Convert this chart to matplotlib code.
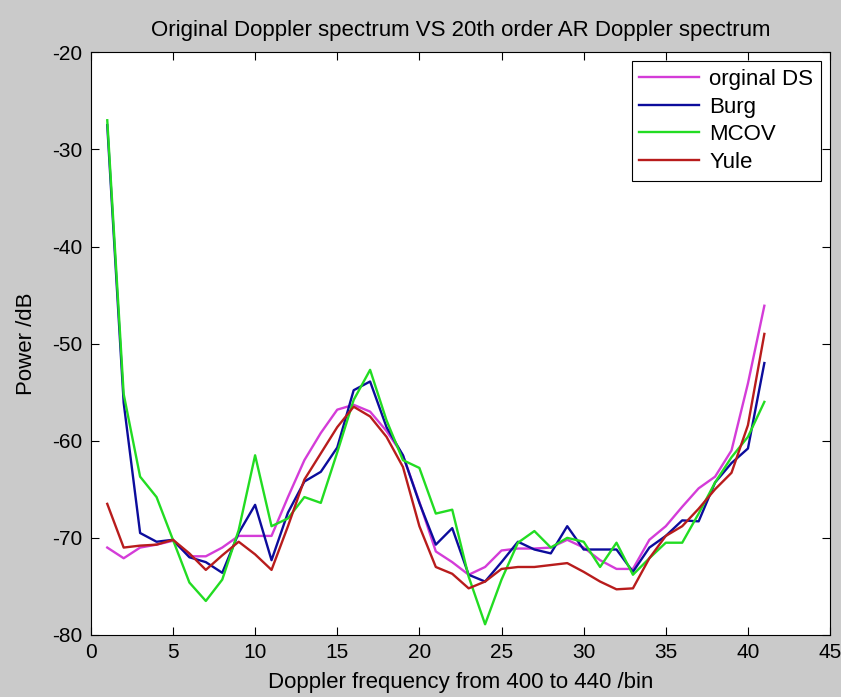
import numpy as np
import matplotlib
matplotlib.use("Agg")
import matplotlib.pyplot as plt

plt.rcParams["font.family"] = ["Liberation Sans", "DejaVu Sans"]
plt.rcParams["axes.unicode_minus"] = False

MAGENTA, BLUE, GREEN, RED = "#d43cd8", "#0c0c9c", "#22dc22", "#b81c1c"

bins = np.arange(1, 42)
orig_ds = [-71.0, -72.1, -71.0, -70.7, -70.3, -71.9, -71.9, -71.0, -69.8, -69.8,
           -69.8, -65.8, -62.0, -59.2, -56.8, -56.3, -57.0, -59.0, -61.5, -66.3,
           -71.4, -72.5, -73.8, -73.0, -71.3, -71.1, -71.1, -71.0, -70.2, -71.0,
           -72.3, -73.2, -73.2, -70.2, -68.8, -66.8, -64.9, -63.7, -61.0, -54.1,
           -46.1]
burg = [-27.5, -56.1, -69.5, -70.4, -70.2, -72.0, -72.5, -73.6, -69.5, -66.6,
        -72.3, -67.4, -64.2, -63.2, -60.7, -54.8, -53.9, -58.6, -61.5, -66.4,
        -70.7, -69.0, -73.8, -74.5, -72.5, -70.4, -71.2, -71.6, -68.8, -71.2,
        -71.2, -71.2, -73.5, -71.0, -69.8, -68.2, -68.3, -64.3, -62.3, -60.8,
        -52.0]
mcov = [-27.0, -55.2, -63.7, -65.8, -70.2, -74.6, -76.5, -74.3, -69.2, -61.5,
        -68.8, -68.0, -65.8, -66.4, -61.2, -55.8, -52.7, -57.9, -62.0, -62.8,
        -67.5, -67.1, -74.0, -78.9, -74.3, -70.5, -69.3, -71.0, -70.0, -70.4,
        -73.0, -70.5, -73.8, -72.1, -70.5, -70.5, -67.5, -64.3, -61.7, -59.6,
        -56.0]
yule = [-66.5, -71.0, -70.8, -70.7, -70.2, -71.6, -73.3, -71.8, -70.4, -71.7,
        -73.3, -68.8, -64.0, -61.3, -58.6, -56.5, -57.5, -59.6, -62.7, -68.8,
        -73.0, -73.7, -75.2, -74.5, -73.2, -73.0, -73.0, -72.8, -72.6, -73.5,
        -74.5, -75.3, -75.2, -72.1, -69.8, -68.8, -67.0, -65.0, -63.3, -58.4,
        -49.0]

fig = plt.figure(figsize=(8.41, 6.97), dpi=100, facecolor="#cacaca")
ax = fig.add_axes([0.108, 0.089, 0.879, 0.836])
ax.set_facecolor("white")

ax.plot(bins, orig_ds, color=MAGENTA, lw=1.7, label="orginal DS")
ax.plot(bins, burg, color=BLUE, lw=1.7, label="Burg")
ax.plot(bins, mcov, color=GREEN, lw=1.7, label="MCOV")
ax.plot(bins, yule, color=RED, lw=1.7, label="Yule")

ax.set_xlim(0, 45)
ax.set_ylim(-80, -20)
ax.set_xticks(np.arange(0, 46, 5))
ax.set_yticks(np.arange(-80, -19, 10))
ax.tick_params(direction="in", top=True, right=True, length=6, width=0.8,
               labelsize=15, colors="black")
ax.tick_params(axis="x", pad=6)
ax.tick_params(axis="y", pad=6)
for s in ax.spines.values():
    s.set_linewidth(0.8)

ax.set_title("Original Doppler spectrum VS 20th order AR Doppler spectrum",
             fontsize=16, pad=12)
ax.set_xlabel("Doppler frequency from 400 to 440 /bin", fontsize=16, labelpad=7)
ax.set_ylabel("Power /dB", fontsize=16, labelpad=11)

leg = ax.legend(loc="upper right", fontsize=16, handlelength=2.7, fancybox=False,
                framealpha=1, edgecolor="black", borderaxespad=0.4,
                labelspacing=0.3, handletextpad=0.45, borderpad=0.35)
leg.get_frame().set_linewidth(0.8)

fig.savefig("out.png", dpi=100, facecolor=fig.get_facecolor())
